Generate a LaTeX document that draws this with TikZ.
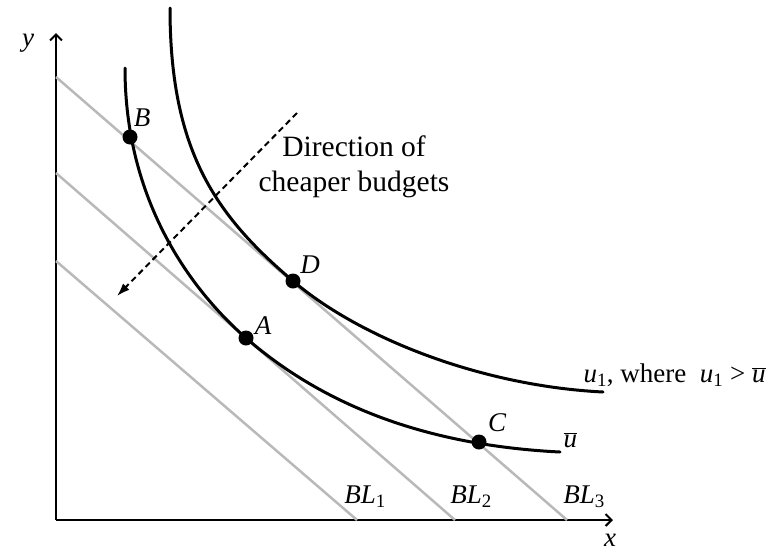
\documentclass[tikz,border=0pt]{standalone}
\usepackage{fontspec}
\setmainfont{Liberation Serif}
\usetikzlibrary{arrows.meta}
\begin{document}
\begin{tikzpicture}[x=1pt, y=-1pt, font=\fontsize{27}{32}\selectfont,
    budget/.style={gray!55, line width=2.5pt},
    indiff/.style={line width=3pt, line cap=round},
    dot/.style={circle, fill=black, inner sep=0pt, minimum size=15pt},
    lbl/.style={font=\fontsize{27}{32}\selectfont\itshape}]
    \useasboundingbox (0,0) rectangle (783,552);
    % Axes
    \coordinate (O) at (56,520);
    \coordinate (ytop) at (56,33);
    \coordinate (xend) at (613,520);
    \draw[line width=2pt, -{Straight Barb[length=6pt, width=12pt]}] (O) -- (ytop);
    \draw[line width=2pt, -{Straight Barb[length=6pt, width=12pt]}] (O) -- (xend);
    \node[lbl] (ylab) at (28,43) {y};
    \node[lbl] (xlab) at (610,540) {x};
    % Budget lines
    \coordinate (bl1a) at (56,261);  \coordinate (bl1b) at (357,520);
    \coordinate (bl2a) at (56,173);  \coordinate (bl2b) at (455,520);
    \coordinate (bl3a) at (56,77);   \coordinate (bl3b) at (567,520);
    \draw[budget] (bl1a) -- (bl1b);
    \draw[budget] (bl2a) -- (bl2b);
    \draw[budget] (bl3a) -- (bl3b);
    \node[lbl] (bl1lab) at (365,497) {BL\textup{\textsubscript{1}}};
    \node[lbl] (bl2lab) at (471,497) {BL\textup{\textsubscript{2}}};
    \node[lbl] (bl3lab) at (584,497) {BL\textup{\textsubscript{3}}};
    % Indifference curves
    \draw[indiff] (125,68) .. controls (125,200) and (190,289) .. (246,338)
        .. controls (326,407.6) and (430,445.5) .. (560,452);
    \draw[indiff] (170,8) .. controls (170,150) and (215,215) .. (293,281)
        .. controls (361,339) and (483,386) .. (603,392);
    \node[lbl, anchor=west] (ubar) at (560,440) {$\overline{\hbox{\textit{u}}}$};
    \node[anchor=west] (u1lab) at (580,375)
        {\textit{u}\textsubscript{1}, where\ \ \textit{u}\textsubscript{1} > $\overline{\hbox{\textit{u}}}$};
    % Bundles
    \node[dot] (B) at (130,137) {};
    \node[dot] (D) at (293,281) {};
    \node[dot] (A) at (246,338) {};
    \node[dot] (C) at (479,442) {};
    \node[lbl] (Blab) at (142,118) {B};
    \node[lbl] (Dlab) at (310,265) {D};
    \node[lbl] (Alab) at (263,326) {A};
    \node[lbl] (Clab) at (497,423) {C};
    % Direction of cheaper budgets
    \coordinate (dstart) at (297,113);
    \coordinate (dend) at (117,296);
    \draw[line width=2pt, dash pattern=on 6pt off 4pt, -{Latex[length=13pt, width=9pt]}] (dstart) -- (dend);
    \node[align=center, font=\fontsize{29.5}{35}\selectfont] (dir) at (354,167) {Direction of\\cheaper budgets};
\end{tikzpicture}
\end{document}
